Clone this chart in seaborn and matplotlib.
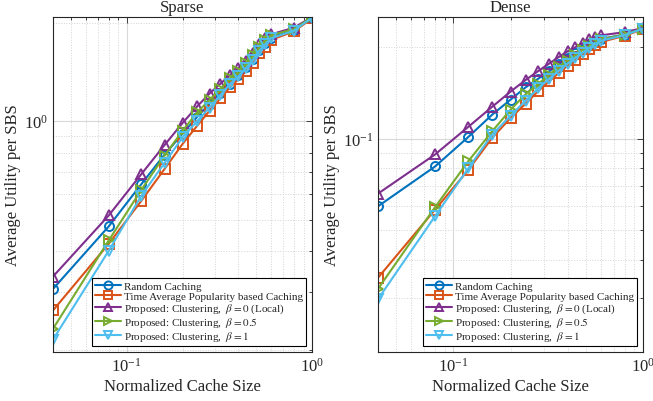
import numpy as np
import pandas as pd
import matplotlib
matplotlib.use("Agg")
import matplotlib.pyplot as plt
import seaborn as sns
from matplotlib.ticker import FixedLocator, NullFormatter, LogLocator, LogFormatterSciNotation

# ---------------- data ----------------
cache_size = [0.04, 0.08, 0.12, 0.16, 0.20, 0.24, 0.28, 0.32, 0.36, 0.40,
              0.44, 0.48, 0.52, 0.56, 0.60, 0.80, 1.00]

method_labels = [
    "Random Caching",
    "Time Average Popularity based Caching",
    r"Proposed: Clustering,  $\beta = 0$ (Local)",
    r"Proposed: Clustering,  $\beta = 0.5$",
    r"Proposed: Clustering,  $\beta = 1$",
]

sparse_random = [0.307, 0.477, 0.642, 0.790, 0.915, 1.030, 1.130, 1.220, 1.300, 1.380,
                 1.460, 1.550, 1.650, 1.730, 1.800, 1.900, 2.070]
sparse_timeavg = [0.264, 0.422, 0.571, 0.714, 0.851, 0.968, 1.075, 1.173, 1.267, 1.340,
                  1.420, 1.510, 1.610, 1.690, 1.770, 1.880, 2.060]
sparse_beta0 = [0.335, 0.515, 0.689, 0.845, 0.986, 1.109, 1.214, 1.300, 1.380, 1.450,
                1.530, 1.620, 1.720, 1.790, 1.840, 1.930, 2.080]
sparse_beta05 = [0.232, 0.432, 0.617, 0.784, 0.934, 1.063, 1.161, 1.252, 1.350, 1.420,
                 1.500, 1.590, 1.690, 1.770, 1.830, 1.910, 2.080]
sparse_beta1 = [0.215, 0.402, 0.592, 0.745, 0.892, 1.000, 1.100, 1.200, 1.297, 1.370,
                1.450, 1.540, 1.640, 1.720, 1.790, 1.890, 2.070]

dense_random = [0.0600, 0.0810, 0.1013, 0.1197, 0.1340, 0.1470, 0.1570, 0.1660, 0.1750, 0.1830,
                0.1900, 0.1970, 0.2030, 0.2080, 0.2120, 0.2190, 0.2290]
dense_timeavg = [0.0350, 0.0585, 0.0790, 0.1005, 0.1167, 0.1300, 0.1430, 0.1540, 0.1640, 0.1730,
                 0.1810, 0.1890, 0.1960, 0.2020, 0.2070, 0.2170, 0.2280]
dense_beta0 = [0.0660, 0.0887, 0.1093, 0.1270, 0.1424, 0.1554, 0.1663, 0.1760, 0.1850, 0.1930,
               0.1990, 0.2050, 0.2110, 0.2150, 0.2177, 0.2230, 0.2300]
dense_beta05 = [0.0322, 0.0596, 0.0844, 0.1056, 0.1242, 0.1396, 0.1510, 0.1620, 0.1720, 0.1800,
                0.1880, 0.1950, 0.2010, 0.2060, 0.2110, 0.2190, 0.2290]
dense_beta1 = [0.0298, 0.0557, 0.0800, 0.1030, 0.1188, 0.1330, 0.1460, 0.1570, 0.1670, 0.1760,
               0.1840, 0.1910, 0.1980, 0.2040, 0.2090, 0.2180, 0.2290]

panel_titles = ["Sparse", "Dense"]
x_label = "Normalized Cache Size"
y_label = "Average Utility per SBS"

# ---------------- style ----------------
sns.set_style("white")
plt.rcParams["font.family"] = ["Liberation Serif", "DejaVu Serif"]
plt.rcParams["mathtext.fontset"] = "stix"

colors = ["#0072BD", "#D95319", "#7E2F8E", "#77AC30", "#4DBEEE"]
markers = ["o", "s", "^", ">", "v"]

fig = plt.figure(figsize=(6.53, 4.02), dpi=100)
ax_l = fig.add_axes([53 / 653, 1 - 353 / 402, 259 / 653, 335 / 402])
ax_r = fig.add_axes([378 / 653, 1 - 353 / 402, 265 / 653, 335 / 402])

panels = [
    (ax_l, [sparse_random, sparse_timeavg, sparse_beta0, sparse_beta05, sparse_beta1], (0.197, 2.08), [1.0]),
    (ax_r, [dense_random, dense_timeavg, dense_beta0, dense_beta05, dense_beta1], (0.02, 0.25), [0.1]),
]

for (ax, series, ylim, yticks), title in zip(panels, panel_titles):
    rows = []
    for lab, vals in zip(method_labels, series):
        for xv, yv in zip(cache_size, vals):
            rows.append({"x": xv, "y": yv, "method": lab})
    df = pd.DataFrame(rows)
    for lab, c, m in zip(method_labels, colors, markers):
        sub = df[df["method"] == lab]
        sns.lineplot(data=sub, x="x", y="y", ax=ax, color=c, marker=m, markersize=6.5,
                     markerfacecolor="none", markeredgecolor=c, markeredgewidth=1.4,
                     linewidth=1.5, label=lab, estimator=None, sort=False)
    ax.set_xscale("log")
    ax.set_yscale("log")
    ax.set_xlim(0.04, 1.0)
    ax.set_ylim(*ylim)
    ax.xaxis.set_major_locator(FixedLocator([0.1, 1.0]))
    ax.yaxis.set_major_locator(FixedLocator(yticks))
    ax.xaxis.set_major_formatter(LogFormatterSciNotation())
    ax.yaxis.set_major_formatter(LogFormatterSciNotation())
    ax.xaxis.set_minor_locator(LogLocator(base=10, subs=np.arange(2, 10)))
    ax.yaxis.set_minor_locator(LogLocator(base=10, subs=np.arange(2, 10)))
    ax.xaxis.set_minor_formatter(NullFormatter())
    ax.yaxis.set_minor_formatter(NullFormatter())
    ax.grid(True, which="major", color="#d9d9d9", linewidth=0.8, linestyle="-")
    ax.grid(True, which="minor", color="#d4d4d4", linewidth=0.7, linestyle=":")
    ax.set_axisbelow(True)
    ax.tick_params(which="both", direction="in", top=True, right=True, colors="#262626",
                   labelsize=12, width=0.6)
    ax.tick_params(which="major", length=4)
    ax.tick_params(which="minor", length=2)
    for sp in ax.spines.values():
        sp.set_color("#262626")
        sp.set_linewidth(0.8)
    ax.set_title(title, fontsize=12, pad=4)
    ax.set_xlabel(x_label, fontsize=12, labelpad=2)
    ax.set_ylabel(y_label, fontsize=12, labelpad=2)
    leg = ax.legend(loc="lower right", fontsize=8, frameon=True, fancybox=False,
                    edgecolor="black", framealpha=1, handlelength=2.3, handletextpad=0.3,
                    borderpad=0.3, labelspacing=0.02, borderaxespad=0.5, markerscale=0.9)
    leg.get_frame().set_linewidth(0.8)

fig.savefig("out.png", dpi=100)
